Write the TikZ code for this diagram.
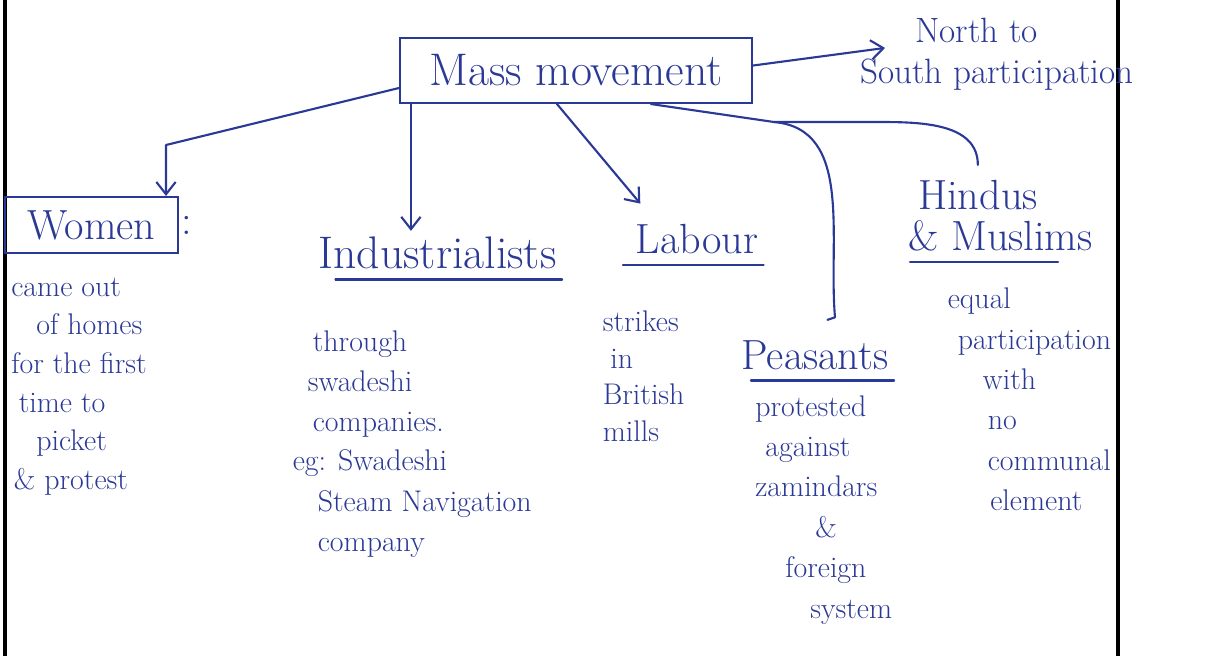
\documentclass[tikz,border=0pt]{standalone}
\usepackage{tikz}
\usetikzlibrary{arrows.meta,positioning}
\definecolor{ink}{RGB}{42,56,150}
\tikzset{
  wire/.style={draw=ink,line width=1.2pt,line cap=round,line join=round},
  note/.style={text=ink,font=\fontsize{17}{22}\selectfont,align=left,inner sep=0pt},
  head/.style={text=ink,font=\fontsize{24}{26}\selectfont,align=left,inner sep=3pt},
  boxed/.style={head,draw=ink,line width=1.2pt},
  >={Straight Barb[length=7pt,width=11pt]}
}

\begin{document}
\begin{tikzpicture}
\useasboundingbox[fill=white] (0,0) rectangle (24.46,-13.12);
% page edges
\draw[line width=2.8pt] (0.1,0) -- (0.1,-13.12);
\draw[line width=2.8pt] (22.36,0) -- (22.36,-13.12);

\node[boxed,font=\fontsize{26}{28}\selectfont,align=center,minimum width=7.04cm,minimum height=1.3cm] (mass) at (11.52,-1.41) {Mass movement};
\node[note,font=\fontsize{20}{22}\selectfont,anchor=west] (north) at (18.3,-0.6) {North to};
\node[note,font=\fontsize{20}{22}\selectfont,anchor=west] (south) at (17.2,-1.5) {South participation};

% women
\node[boxed,minimum width=3.46cm,minimum height=1.12cm] (women) at (1.83,-4.5) {Women};
\node[head,anchor=west,inner sep=1pt] (wcolon) at (women.east) {:};
\node[note,anchor=north west] (wbody) at (0.22,-5.55)
  {came out\\\hspace{0.5cm}of homes\\for the first\\\hspace{0.15cm}time to\\\hspace{0.5cm}picket\\\hspace{0.05cm}\& protest};

% industrialists
\node[head,font=\fontsize{26}{28}\selectfont] (ind) at (8.75,-5.05) {Industrialists};
\node[note,font=\fontsize{17}{23}\selectfont,anchor=north west] (ibody) at (6.15,-6.6)
  {\hspace{0.1cm}through\\swadeshi\\\hspace{0.1cm}companies.\\[-1pt]\hspace{-0.3cm}eg: Swadeshi\\\hspace{0.2cm}Steam Navigation\\\hspace{0.2cm}company};

% labour
\node[head] (lab) at (13.94,-4.78) {Labour};
\node[note,font=\fontsize{17}{21}\selectfont,anchor=north west] (lbody) at (12.05,-6.2)
  {strikes\\\hspace{0.15cm}in\\British\\mills};

% peasants
\node[head] (pea) at (16.3,-7.1) {Peasants};
\node[note,font=\fontsize{17}{23}\selectfont,anchor=north west] (pbody) at (15.1,-7.9)
  {protested\\\hspace{0.2cm}against\\zamindars\\\hspace{1.2cm}\&\\\hspace{0.6cm}foreign\\\hspace{1.1cm}system};

% hindus and muslims
\node[head,font=\fontsize{24}{23}\selectfont,anchor=north west] (hm) at (18.05,-3.5) {\hspace{0.2cm}Hindus\\\& Muslims};
\node[note,font=\fontsize{17}{23}\selectfont,anchor=north west] (hbody) at (18.95,-5.75)
  {equal\\\hspace{0.2cm}participation\\\hspace{0.7cm}with\\\hspace{0.8cm}no\\\hspace{0.8cm}communal\\\hspace{0.85cm}element};

% underlines
\draw[wire] ([xshift=0.45cm,yshift=-3pt]ind.south west) -- ([yshift=-3pt]ind.south east);
\draw[wire] ([xshift=-0.15cm,yshift=-3pt]lab.south west) -- ([yshift=-3pt]lab.south east);
\draw[wire] ([xshift=0.3cm,yshift=-3pt]pea.south west) -- ([yshift=-3pt]pea.south east);
\draw[wire] ([xshift=0.15cm,yshift=-3pt]hm.south west) -- ([xshift=-0.8cm,yshift=-3pt]hm.south east);

% connectors
\coordinate (wbend) at (3.32,-2.9);
\coordinate (split) at (15.48,-2.44);
\coordinate (hturn) at (17.6,-2.44);
\path ([xshift=0.24cm]mass.south west) coordinate (istart);

\draw[wire,->] ([yshift=0.1cm]mass.east) -- ([xshift=0.5cm,yshift=0.22cm]south.north west);
\draw[wire,->] ([yshift=-0.35cm]mass.west) -- (wbend) -- (wbend |- women.north);
\draw[wire,->] (istart) -- (istart |- ind.north);
\draw[wire,->] ([xshift=-0.38cm]mass.south) -- ([xshift=0.2cm,yshift=0.3cm]lab.north west);
\draw[wire] ([xshift=1.5cm]mass.south) -- (split) -- (hturn) to[out=0,in=90] ([xshift=-0.45cm,yshift=0.2cm]hm.north);
\draw[wire] (split) to[out=-5,in=95] ([xshift=0.4cm,yshift=0.35cm]pea.north) -- ++(-0.15,-0.05);
\end{tikzpicture}
\end{document}
